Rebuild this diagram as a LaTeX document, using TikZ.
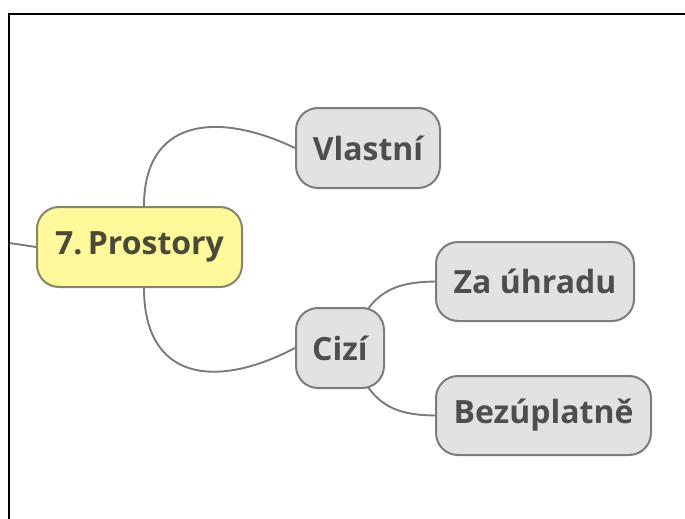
\documentclass[tikz,border=0pt]{standalone}
\usepackage{fontspec}
\setmainfont{Open Sans}
\definecolor{linegray}{HTML}{7A7A7A}
\definecolor{boxfill}{HTML}{E2E2E2}
\definecolor{boxdraw}{HTML}{7C7C7C}
\definecolor{textgray}{HTML}{4E4E4E}
\definecolor{yfill}{HTML}{FFF99C}
\definecolor{ydraw}{HTML}{85856A}
\definecolor{ytext}{HTML}{4A4A38}
\begin{document}
\begin{tikzpicture}[x=1pt,y=-1pt,
  topic/.style={draw=boxdraw, fill=boxfill, line width=2pt, rounded corners=22pt,
    inner sep=0pt, text=textgray, font=\fontsize{32}{36}\selectfont\bfseries},
  central/.style={topic, draw=ydraw, fill=yfill, text=ytext},
  link/.style={draw=linegray, line width=1.9pt}]
\useasboundingbox (0,0) rectangle (685,519);
\draw[line width=2pt, black] (8.5,519) -- (8.5,14.5) -- (685,14.5);
\node[central, minimum width=205pt, minimum height=80pt] (pro) at (139.5,247) {7.\,Prostory};
\node[topic, minimum width=144pt, minimum height=80pt] (vl) at (368,148) {Vlastní};
\node[topic, minimum width=88pt, minimum height=80pt] (ci) at (340,348) {Cizí};
\node[topic, minimum width=198pt, minimum height=79pt] (za) at (535,281.5) {Za úhradu};
\node[topic, minimum width=215pt, minimum height=79pt] (bz) at (543.5,415.5) {Bezúplatně};
\coordinate (stub) at (9.5,243);
\path[link] (stub) -- (pro.west);
\path[link] ([xshift=4.5pt]pro.north) .. controls (144,120) and (215,110) .. (vl.west);
\path[link] ([xshift=4.5pt]pro.south) .. controls (144,380) and (215,390) .. (ci.west);
\path[link] ([xshift=-17pt,yshift=-2pt]ci.north east) .. controls (385,285) and (410,282) .. (za.west);
\path[link] ([xshift=-17pt,yshift=2pt]ci.south east) .. controls (385,412) and (410,415) .. (bz.west);
\end{tikzpicture}
\end{document}
